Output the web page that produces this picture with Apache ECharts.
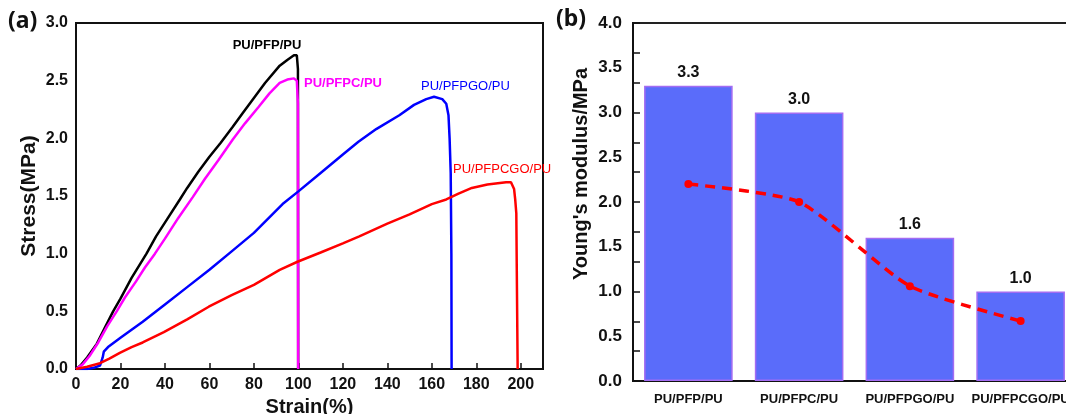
<!DOCTYPE html>
<html><head><meta charset="utf-8">
<script src="https://cdn.jsdelivr.net/npm/echarts@6/dist/echarts.min.js"></script>
<style>html,body{margin:0;padding:0;background:#fff}#c{width:1066px;height:414px}</style>
</head><body><div id="c"></div>
<script>
// ---- Panel (a): stress-strain curves [strain %, stress MPa]
const curvePFP = [[0,0],[2,0.03],[5,0.1],[9.4,0.22],[13,0.36],[16.7,0.5],[20,0.61],[25,0.79],[31.7,1.0],[36,1.15],[41,1.3],[46.7,1.47],[50,1.57],[55,1.71],[60,1.84],[65,1.96],[70.5,2.1],[75,2.22],[80,2.35],[85,2.48],[91.6,2.63],[95,2.68],[98,2.72],[99.3,2.72],[99.8,2.6],[99.9,0]];
const curvePFPC = [[0,0],[3,0.04],[6,0.11],[10,0.23],[14,0.37],[18.3,0.5],[22,0.62],[27,0.76],[31,0.88],[35.5,1.0],[40,1.13],[46,1.31],[52.5,1.49],[58,1.65],[64,1.81],[70.5,1.99],[76,2.13],[82,2.27],[87,2.39],[91.6,2.48],[95,2.51],[98,2.52],[99.3,2.5],[99.8,2.3],[99.9,0]];
const curvePFPGO = [[0,0],[5,0.0],[8,0.01],[10.8,0.03],[12,0.1],[12.5,0.15],[14.4,0.19],[20,0.27],[30,0.41],[40,0.56],[50,0.71],[60,0.86],[70,1.02],[80,1.18],[92.9,1.43],[100,1.54],[110,1.7],[120,1.86],[127,1.97],[135,2.08],[145.4,2.2],[152,2.29],[157.5,2.34],[161,2.36],[164.7,2.34],[166.5,2.3],[167.5,2.2],[168,2.0],[168.5,1.7],[168.8,1.0],[168.9,0]];
const curvePFPCGO = [[0,0],[5,0.02],[10.8,0.05],[15,0.09],[19.7,0.14],[25,0.19],[30,0.23],[39.5,0.32],[50,0.43],[59.7,0.54],[70,0.64],[80,0.73],[91.6,0.86],[99.6,0.93],[110,1.01],[120,1.09],[127.4,1.15],[140,1.26],[150,1.34],[160,1.43],[166.5,1.47],[172,1.52],[178,1.57],[185,1.6],[193.4,1.62],[195.6,1.62],[197,1.56],[197.5,1.47],[198,1.35],[198.2,0.88],[198.6,0]];
const curveNames = ['PU/PFP/PU','PU/PFPC/PU','PU/PFPGO/PU','PU/PFPCGO/PU'];

// ---- Panel (b): Young's modulus
const samples = ['PU/PFP/PU','PU/PFPC/PU','PU/PFPGO/PU','PU/PFPCGO/PU'];
const modulusBars = [3.3, 3.0, 1.6, 1.0];
const modulusLine = [2.2, 2.0, 1.06, 0.67];

const FONT = "'Liberation Sans', Arial, sans-serif";
const chart = echarts.init(document.getElementById('c'), null, {renderer:'canvas'});
const axisLine = {show:true, lineStyle:{color:'#111', width:2}};
const lineSeries = (name, data, color) => ({
  type:'line', name, data, xAxisIndex:0, yAxisIndex:0, showSymbol:false, symbol:'none',
  lineStyle:{color, width:2.5}, animation:false, z:3
});
chart.setOption({
  backgroundColor:'#fff',
  animation:false,
  grid:[
    {left:76, top:23, width:467, height:346, show:true, borderColor:'#111', borderWidth:2, backgroundColor:'transparent', containLabel:false, outerBoundsMode:'none'},
    {left:633, top:23, width:443, height:358, show:true, borderColor:'#222', borderWidth:2, backgroundColor:'transparent', containLabel:false, outerBoundsMode:'none'}
  ],
  xAxis:[
    {gridIndex:0, type:'value', min:0, max:210, interval:20, axisLine,
     axisTick:{show:true, inside:true, length:6, lineStyle:{color:'#111', width:1.5}},
     splitLine:{show:false},
     axisLabel:{fontFamily:FONT, fontWeight:'bold', fontSize:16, color:'#111', margin:8,
       formatter:v=> v>200 ? '' : String(v)},
     name:'Strain(%)', nameLocation:'middle', nameGap:25,
     nameTextStyle:{fontFamily:FONT, fontWeight:'bold', fontSize:20, color:'#111'}},
    {gridIndex:1, type:'category', data:samples, axisLine,
     axisTick:{show:true, inside:true, alignWithLabel:true, length:7, lineStyle:{color:'#111', width:1.5}},
     axisLabel:{fontFamily:FONT, fontWeight:'bold', fontSize:13, color:'#111', margin:12, interval:0}}
  ],
  yAxis:[
    {gridIndex:0, type:'value', min:0, max:3, interval:0.5, axisLine,
     axisTick:{show:false}, splitLine:{show:false},
     axisLabel:{fontFamily:FONT, fontWeight:'bold', fontSize:16, color:'#111', margin:8,
       formatter:v=>v.toFixed(1)},
     name:'Stress(MPa)', nameLocation:'middle', nameGap:36,
     nameTextStyle:{fontFamily:FONT, fontWeight:'bold', fontSize:21, color:'#111'}},
    {gridIndex:1, type:'value', min:0, max:4, interval:0.5, axisLine,
     axisTick:{show:false}, splitLine:{show:false},
     axisLabel:{fontFamily:FONT, fontWeight:'bold', fontSize:17, color:'#111', margin:11,
       formatter:v=>v.toFixed(1)},
     name:"Young's modulus/MPa", nameLocation:'middle', nameGap:42,
     nameTextStyle:{fontFamily:FONT, fontWeight:'bold', fontSize:20, color:'#111', padding:[0,0,0,56]}},
    {gridIndex:1, type:'value', min:0, max:4, interval:4/12, position:'left',
     axisLine:{show:false}, axisLabel:{show:false}, splitLine:{show:false},
     axisTick:{show:true, inside:true, length:7, lineStyle:{color:'#111', width:1.5}}}
  ],
  series:[
    lineSeries(curveNames[0], curvePFP, '#000000'),
    lineSeries(curveNames[1], curvePFPC, '#ff00ff'),
    lineSeries(curveNames[2], curvePFPGO, '#0000ff'),
    lineSeries(curveNames[3], curvePFPCGO, '#ff0000'),
    {type:'bar', xAxisIndex:1, yAxisIndex:1, data:modulusBars, barCategoryGap:'20%',
     itemStyle:{color:'#5a6cfa', borderColor:'#a36cf2', borderWidth:1.5},
     label:{show:true, position:'top', distance:5, fontFamily:FONT, fontWeight:'bold', fontSize:16, color:'#111',
       formatter:p=>p.value.toFixed(1)}, z:2},
    {type:'line', xAxisIndex:1, yAxisIndex:1, data:modulusLine, smooth:0.2,
     symbol:'circle', symbolSize:8, itemStyle:{color:'#ff0000'},
     lineStyle:{color:'#ff0000', width:3.5, type:[10,7]}, z:4}
  ],
  graphic:[
    {type:'text', left:8, top:10, style:{text:'(a)', font:"bold 23px 'Noto Sans', sans-serif", fill:'#111'}},
    {type:'text', left:556, top:8, style:{text:'(b)', font:"bold 23px 'Noto Sans', sans-serif", fill:'#111'}},
    {type:'text', x:267, y:45, style:{text:curveNames[0], font:"bold 13px "+FONT, fill:'#000', align:'center', verticalAlign:'middle'}},
    {type:'text', x:304, y:83, style:{text:curveNames[1], font:"bold 13px "+FONT, fill:'#ff00ff', align:'left', verticalAlign:'middle'}},
    {type:'text', x:421, y:86, style:{text:curveNames[2], font:"13px "+FONT, fill:'#0000ff', align:'left', verticalAlign:'middle'}},
    {type:'text', x:453, y:169, style:{text:curveNames[3], font:"13px "+FONT, fill:'#ff0000', align:'left', verticalAlign:'middle'}}
  ]
});
</script></body></html>
